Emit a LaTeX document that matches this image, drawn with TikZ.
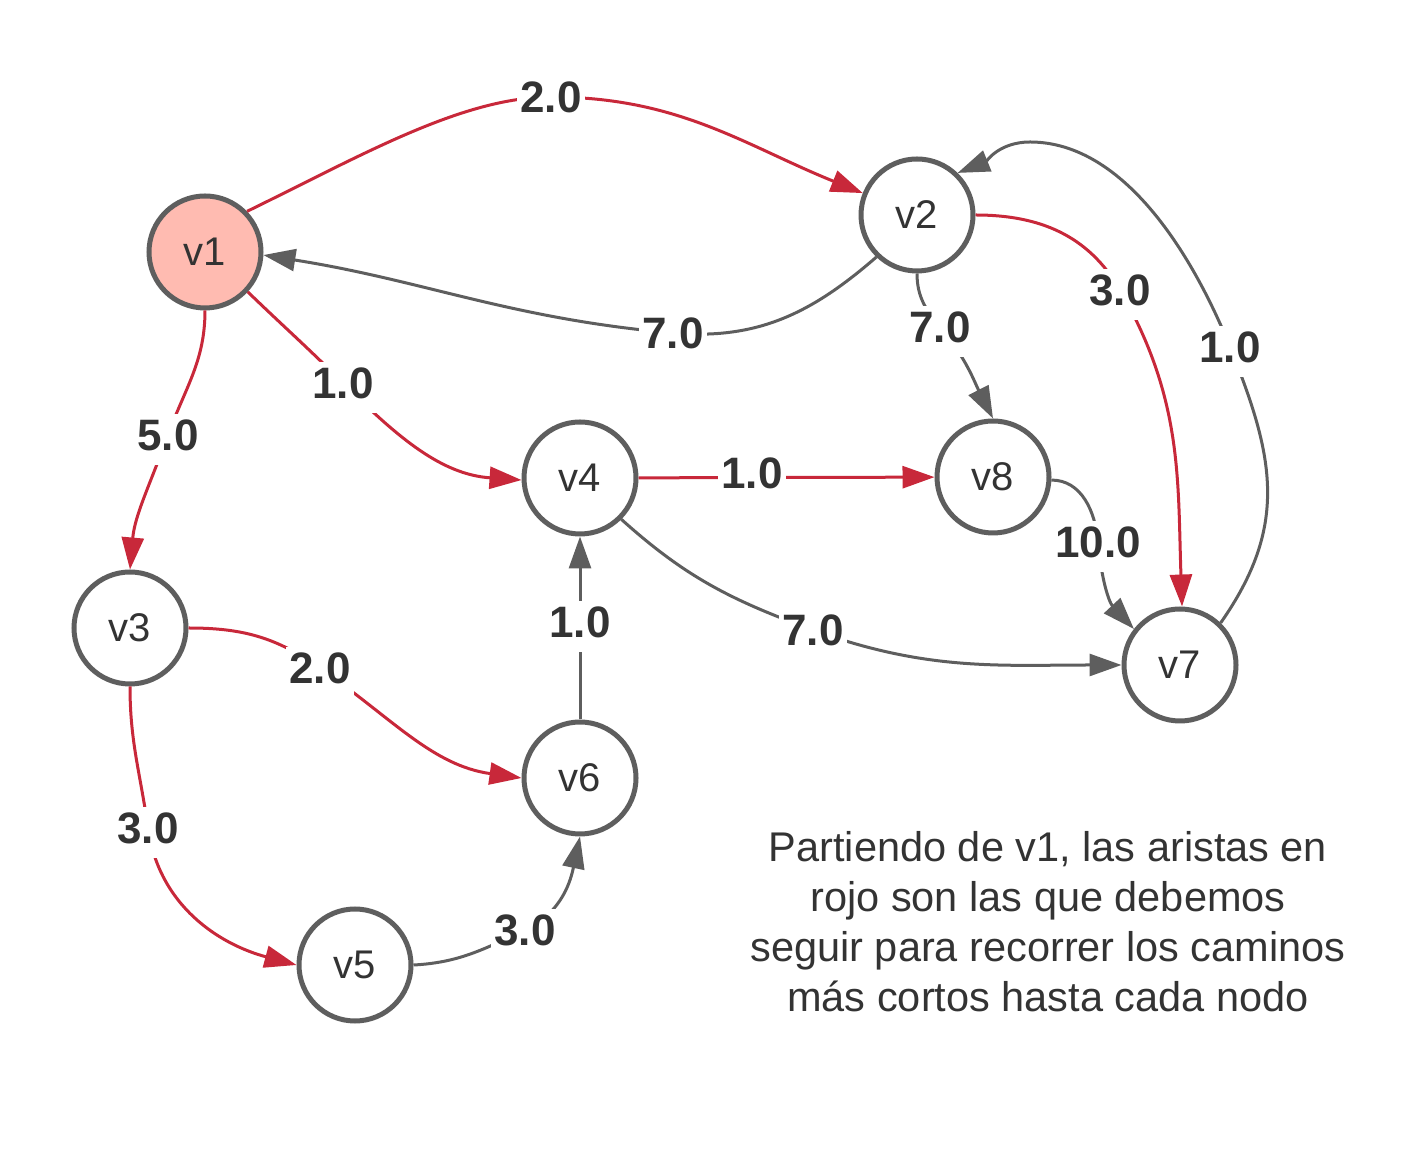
\documentclass[tikz,border=0pt]{standalone}
\usepackage{fontspec}
\setmainfont{Liberation Sans}
\usetikzlibrary{arrows.meta}
\definecolor{edgegray}{HTML}{5E5E5E}
\definecolor{edgered}{HTML}{C8283A}
\definecolor{nodefill}{HTML}{FFBBB1}
\definecolor{txt}{HTML}{333333}
\begin{document}
\begin{tikzpicture}[x=1pt,y=1pt,
  vert/.style={circle,draw=edgegray,line width=5pt,minimum size=112pt,inner sep=0pt,fill=white,text=txt,font=\fontsize{40}{48}\selectfont},
  wt/.style={fill=white,text=txt,inner sep=0pt,inner xsep=3pt,text height=36pt,text depth=15pt,font=\bfseries\fontsize{44}{52}\selectfont,yshift=-5pt},
  grayedge/.style={draw=edgegray,line width=3pt,-{Triangle[length=32pt,width=22pt]}},
  rededge/.style={draw=edgered,line width=3pt,-{Triangle[length=32pt,width=22pt]}},
  note/.style={text=txt,align=center,inner sep=0pt,font=\fontsize{41.5}{50}\selectfont}
]
\useasboundingbox (0,0) rectangle (1423,1172);

% vertices
\node[vert,fill=nodefill] (v1) at (205,920) {v1};
\node[vert] (v2) at (917,957) {v2};
\node[vert] (v3) at (130,544) {v3};
\node[vert] (v4) at (580,694) {v4};
\node[vert] (v5) at (355,207) {v5};
\node[vert] (v6) at (580,394) {v6};
\node[vert] (v7) at (1180,507) {v7};
\node[vert] (v8) at (993,695) {v8};

% label positions
\coordinate (L12) at (551,1075);
\coordinate (L21) at (673,839);
\coordinate (L14) at (343,789);
\coordinate (L13) at (168,737);
\coordinate (L27) at (1120,882);
\coordinate (L72) at (1230,825);
\coordinate (T72) at (1030,1030);
\coordinate (L28) at (940,845);
\coordinate (L48) at (752,699);
\coordinate (L87) at (1098,630);
\coordinate (L47) at (813,542);
\coordinate (L36) at (320,504);
\coordinate (L35) at (148,344);
\coordinate (L56) at (525,242);
\coordinate (L64) at (580,550);

% edges
\draw[rededge] (v1.44) to[out=26,in=180,in looseness=0.7] (L12) to[out=0,in=158] (v2.158);
\draw[grayedge] (v2.226) to[out=221,in=-5] (L21) to[out=175,in=-9] (v1.-3);
\draw[rededge] (v1.-43) to[out=-44,in=135] (L14) to[out=-45,in=176] (v4.182);
\draw[rededge] (v1.270) to[out=270,in=70] (L13) to[out=250,in=85] (v3.90);
\draw[rededge] (v2.0) to[out=0,in=120] (L27) to[out=-60,in=92] (v7.88);
\draw[grayedge] (v7.46) to[out=55,in=-68,looseness=1.1] (L72) to[out=112,in=0,looseness=0.85] (T72) to[out=180,in=22] (v2.46);
\draw[grayedge] (v2.270) to[out=270,in=130] (L28) to[out=-50,in=117] (v8.90);
\draw[rededge] (v4) -- (v8);
\draw[grayedge] (v8.357) to[out=0,in=95] (L87) to[out=-85,in=133] (v7.142);
\draw[grayedge] (v4.-45) to[out=-42,in=160] (L47) to[out=-20,in=180] (v7.180);
\draw[rededge] (v3.0) to[out=0,in=145] (L36) to[out=-35,in=172] (v6.180);
\draw[rededge] (v3.270) to[out=-90,in=98] (L35) to[out=-82,in=165] (v5.180);
\draw[grayedge] (v5.0) to[out=3,in=205] (L56) to[out=25,in=258] (v6.270);
\draw[grayedge] (v6) -- (v4);

% weights
\node[wt] (w12) at (L12) {2.0};
\node[wt] (w21) at (L21) {7.0};
\node[wt] (w14) at (L14) {1.0};
\node[wt] (w13) at (L13) {5.0};
\node[wt] (w27) at (L27) {3.0};
\node[wt] (w72) at (L72) {1.0};
\node[wt] (w28) at (L28) {7.0};
\node[wt] (w48) at (L48) {1.0};
\node[wt] (w87) at (L87) {10.0};
\node[wt] (w47) at (L47) {7.0};
\node[wt] (w36) at (L36) {2.0};
\node[wt] (w35) at (L35) {3.0};
\node[wt] (w56) at (L56) {3.0};
\node[wt] (w64) at (L64) {1.0};

% note
\node[note] (txt) at (1048,250.5) {Partiendo de v1, las aristas en\\rojo son las que debemos\\seguir para recorrer los caminos\\más cortos hasta cada nodo};
\end{tikzpicture}
\end{document}
